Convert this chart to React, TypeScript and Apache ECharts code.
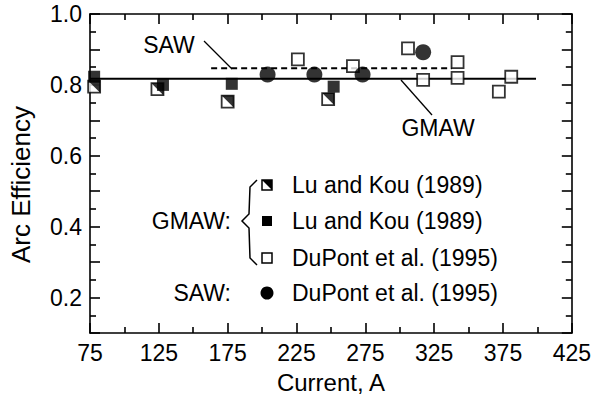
import React, { useEffect, useRef } from "react";
import * as echarts from "echarts";

const currentLuHalf = [78, 124, 175, 248];
const effLuHalf = [0.795, 0.788, 0.753, 0.76];
const currentLuFull = [78, 128, 178, 252];
const effLuFull = [0.823, 0.8, 0.803, 0.795];
const currentDuPontGmaw = [226, 266, 306, 317, 342, 342, 372, 381];
const effDuPontGmaw = [0.872, 0.853, 0.903, 0.814, 0.864, 0.82, 0.781, 0.823];
const currentDuPontSaw = [204, 238, 273, 317];
const effDuPontSaw = [0.829, 0.829, 0.829, 0.892];
const gmawFitCurrent = [75, 399];
const gmawFitEff = [0.817, 0.817];
const sawFitCurrent = [163, 338];
const sawFitEff = [0.847, 0.847];

const legendLabels = ["Lu and Kou (1989)", "Lu and Kou (1989)", "DuPont et al. (1995)", "DuPont et al. (1995)"];

const FONT = "'Liberation Sans', Arial, Helvetica, sans-serif";
const FS = 23;

const pairs = (xs: number[], ys: number[]) => xs.map((x, i) => [x, ys[i]]);

export default function App() {
  const ref = useRef<HTMLDivElement>(null);
  useEffect(() => {
    if (!ref.current) return;
    const chart = echarts.init(ref.current, undefined, { renderer: "svg" });
    const axisCommon = {
      axisLine: { show: true, lineStyle: { color: "#000", width: 1.6 } },
      axisTick: { show: true, inside: true, length: 10, lineStyle: { color: "#000", width: 1.6 } },
      minorTick: { show: true, splitNumber: 2, length: 6, lineStyle: { color: "#000", width: 1.6 } },
      splitLine: { show: false },
    };
    const triPath = "path://M0,0L10,0L10,10Z";
    const legendY = [185, 221, 258, 293];
    const legX = 267;
    const textX = 292;
    chart.setOption({
      animation: false,
      backgroundColor: "#fff",
      grid: { left: 87, right: 20, top: 14, bottom: 66, containLabel: false },
      xAxis: [
        {
          ...axisCommon,
          type: "value",
          min: 75,
          max: 425,
          interval: 50,
          name: "Current, A",
          nameLocation: "middle",
          nameGap: 37,
          nameTextStyle: { color: "#000", fontSize: 24, fontFamily: FONT },
          axisLabel: { color: "#000", fontSize: FS, fontFamily: FONT, margin: 8 },
        },
        {
          ...axisCommon,
          type: "value",
          position: "top",
          min: 75,
          max: 425,
          interval: 50,
          axisLabel: { show: false },
        },
      ],
      yAxis: [
        {
          ...axisCommon,
          type: "value",
          min: 0.1,
          max: 1.0,
          interval: 0.1,
          name: "Arc Efficiency",
          nameLocation: "middle",
          nameGap: 56,
          nameTextStyle: { color: "#000", fontSize: 26, fontFamily: FONT, padding: [0, 22, 0, 0] },
          axisLabel: {
            color: "#000",
            fontSize: FS,
            fontFamily: FONT,
            margin: 8,
            formatter: (v: number) => (Math.round(v * 10) % 2 === 0 ? v.toFixed(1) : ""),
          },
        },
        {
          ...axisCommon,
          type: "value",
          position: "right",
          min: 0.1,
          max: 1.0,
          interval: 0.1,
          axisLabel: { show: false },
        },
      ],
      series: [
        {
          type: "line",
          data: pairs(gmawFitCurrent, gmawFitEff),
          symbol: "none",
          lineStyle: { color: "#000", width: 2 },
          z: 1,
        },
        {
          type: "line",
          data: pairs(sawFitCurrent, sawFitEff),
          symbol: "none",
          lineStyle: { color: "#000", width: 2, type: [6, 4] },
          z: 1,
        },
        {
          type: "scatter",
          data: pairs(currentLuHalf, effLuHalf),
          symbol: "rect",
          symbolSize: 12,
          itemStyle: { color: "#fff", borderColor: "#000", borderWidth: 1.8 },
          z: 3,
        },
        {
          type: "scatter",
          data: pairs(currentLuHalf, effLuHalf),
          symbol: triPath,
          symbolSize: 12,
          itemStyle: { color: "#000" },
          z: 4,
        },
        {
          type: "scatter",
          data: pairs(currentLuFull, effLuFull),
          symbol: "rect",
          symbolSize: 12,
          itemStyle: { color: "#000" },
          z: 5,
        },
        {
          type: "scatter",
          data: pairs(currentDuPontGmaw, effDuPontGmaw),
          symbol: "rect",
          symbolSize: 12,
          itemStyle: { color: "#fff", borderColor: "#000", borderWidth: 1.8 },
          z: 3,
        },
        {
          type: "scatter",
          data: pairs(currentDuPontSaw, effDuPontSaw),
          symbol: "circle",
          symbolSize: 16,
          itemStyle: { color: "#000" },
          z: 5,
        },
      ],
      graphic: [
        { type: "text", x: 169, y: 45, style: { text: "SAW", fill: "#000", font: `${FS}px ${FONT}`, textAlign: "center", textVerticalAlign: "middle" } },
        { type: "line", shape: { x1: 204, y1: 41, x2: 232, y2: 69 }, style: { stroke: "#000", lineWidth: 1.3 } },
        { type: "text", x: 438, y: 128, style: { text: "GMAW", fill: "#000", font: `${FS}px ${FONT}`, textAlign: "center", textVerticalAlign: "middle" } },
        { type: "line", shape: { x1: 401, y1: 80, x2: 432, y2: 115 }, style: { stroke: "#000", lineWidth: 1.3 } },
        // legend
        { type: "rect", shape: { x: legX - 5, y: legendY[0] - 5, width: 10, height: 10 }, style: { fill: "#fff", stroke: "#000", lineWidth: 1.5 } },
        { type: "polygon", shape: { points: [[legX - 5, legendY[0] - 5], [legX + 5, legendY[0] - 5], [legX + 5, legendY[0] + 5]] }, style: { fill: "#000" } },
        { type: "rect", shape: { x: legX - 5, y: legendY[1] - 5, width: 10, height: 10 }, style: { fill: "#000" } },
        { type: "rect", shape: { x: legX - 5, y: legendY[2] - 5, width: 10, height: 10 }, style: { fill: "#fff", stroke: "#000", lineWidth: 1.5 } },
        { type: "circle", shape: { cx: legX, cy: legendY[3], r: 6.5 }, style: { fill: "#000" } },
        ...legendLabels.map((t, i) => ({
          type: "text",
          x: textX,
          y: legendY[i],
          style: { text: t, fill: "#000", font: `${FS}px ${FONT}`, textAlign: "left", textVerticalAlign: "middle" },
        })),
        { type: "text", x: 231, y: legendY[1], style: { text: "GMAW:", fill: "#000", font: `${FS}px ${FONT}`, textAlign: "right", textVerticalAlign: "middle" } },
        { type: "text", x: 231, y: legendY[3], style: { text: "SAW:", fill: "#000", font: `${FS}px ${FONT}`, textAlign: "right", textVerticalAlign: "middle" } },
        {
          type: "polyline",
          shape: { points: [[257, 180], [250, 187], [249, 214], [242, 221], [249, 228], [250, 258], [257, 265]] },
          style: { stroke: "#000", lineWidth: 1.5, fill: "none" },
        },
      ],
    });
    return () => chart.dispose();
  }, []);
  return <div ref={ref} style={{ width: 594, height: 399, position: "absolute", left: 0, top: 0 }} />;
}
